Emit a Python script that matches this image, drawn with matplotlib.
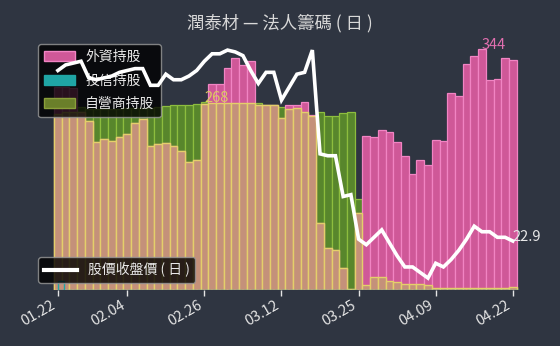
import numpy as np
import matplotlib
matplotlib.use('Agg')
import matplotlib.pyplot as plt
from matplotlib.patches import Patch
from matplotlib.lines import Line2D

plt.rcParams['font.family'] = ['Noto Sans CJK TC', 'DejaVu Sans']

title = '潤泰材 — 法人籌碼 ( 日 )'
series_names = ['外資持股', '投信持股', '自營商持股']
price_name = '股價收盤價 ( 日 )'

tick_labels = ['01.22', '02.04', '02.26', '03.12', '03.25', '04.09', '04.22']
tick_idx = [0, 9, 19, 29, 39, 49, 59]

foreign = [290, 290, 288, 255, 242, 212, 216, 213, 219, 223, 239, 244,
           206, 209, 210, 206, 198, 182, 186, 266, 294, 294, 318, 332,
           322, 327, 265, 265, 265, 245, 265, 265, 268, 250, 95, 60,
           57, 31, 1, 110, 220, 218, 229, 225, 212, 191, 166, 186,
           178, 214, 213, 282, 277, 323, 334, 344, 300, 302, 332, 329]
trust = [12, 0, 0, 0, 0, 0, 0, 0, 0, 0, 0, 0,
         0, 0, 0, 0, 0, 0, 0, 0, 0, 0, 0, 0,
         0, 0, 0, 0, 0, 0, 0, 0, 0, 0, 0, 0,
         0, 0, 0, 0, 0, 0, 0, 0, 0, 0, 0, 0,
         0, 0, 0, 0, 0, 0, 0, 0, 0, 0, 0, 0]
dealer = [252, 254, 255, 262, 258, 258, 258, 259, 259, 260, 260, 260,
          260, 262, 263, 264, 264, 265, 266, 268, 267, 267, 267, 267,
          267, 267, 267, 265, 265, 262, 258, 260, 255, 249, 255, 249,
          249, 253, 255, 129, 6, 18, 18, 12, 11, 8, 8, 8,
          7, 2, 2, 2, 2, 2, 2, 2, 2, 2, 2, 4]
price = [27.5, 27.65, 27.7, 27.75, 27.3, 27.25, 27.3, 27.35, 27.45, 27.5, 27.55, 27.55,
         27.1, 27.1, 27.4, 27.25, 27.25, 27.35, 27.5, 27.75, 27.95, 27.95, 28.05, 28.0,
         27.9, 27.5, 27.15, 27.45, 27.45, 26.7, 27.05, 27.4, 27.45, 28.05, 25.25, 25.2,
         25.2, 24.1, 24.15, 22.95, 22.8, 23.0, 23.2, 22.85, 22.5, 22.2, 22.2, 22.05,
         21.9, 22.3, 22.2, 22.4, 22.65, 22.95, 23.3, 23.15, 23.15, 23.0, 23.0, 22.9]

BG = '#2f3541'
PINK, PINK_E = '#cf5898', '#f184c3'
GREEN, GREEN_E = '#58862c', '#8dbd3e'
TAN, TAN_E = '#c4917a', '#e4cf6a'
TEAL = '#1fa5a5'

W, H = 560, 346
fig = plt.figure(figsize=(W / 100, H / 100), dpi=100, facecolor=BG)
ax = fig.add_axes([40 / W, (H - 289.5) / H, 490 / W, 249.5 / H])
ax.set_facecolor(BG)

n = len(foreign)
x = np.arange(n)
f = np.array(foreign, float)
d = np.array(dealer, float)
t = np.array(trust, float)
overlap = np.minimum(f, d)

ax.bar(x, d, width=1.0, color=GREEN, edgecolor=GREEN_E, linewidth=0.9, zorder=2)
ax.bar(x, f, width=1.0, color=PINK, edgecolor=PINK_E, linewidth=0.9, zorder=2)
ax.bar(x, overlap, width=1.0, color=TAN, edgecolor=TAN_E, linewidth=1.0, zorder=3)
ax.bar(x, t, width=0.85, align='edge', color=TAN, edgecolor=TEAL, linewidth=1.0, zorder=4)

ax.set_xlim((40 - 57.9) / 7.71, (530 - 57.9) / 7.71)
ax.set_ylim(0, 249.5 / 0.698)
for s in ax.spines.values():
    s.set_visible(False)
ax.set_yticks([])
ax.set_xticks(tick_idx)
ax.set_xticklabels(tick_labels, rotation=30, ha='right', color='#e4e4e4', fontsize=10.5)
ax.tick_params(axis='x', colors='#e4e4e4', length=4, width=1, pad=2)
ax.tick_params(axis='x', labelcolor='#e4e4e4')

fi = int(np.argmax(f))
ax.text(fi, f[fi], f'{int(f[fi])}', ha='left', va='baseline', color='#e26fb0', fontsize=10.5, zorder=6)
di = int(np.argmax(d))
ax.text(di, d[di], f'{int(d[di])}', ha='left', va='baseline', color='#dccb62', fontsize=10.5, zorder=6)

handles = [Patch(facecolor=PINK, edgecolor=PINK_E), Patch(facecolor=TEAL, edgecolor=TEAL),
           Patch(facecolor='#6a7f2a', edgecolor='#8a9f3a')]
leg = ax.legend(handles, series_names, loc='upper left',
                bbox_to_anchor=(38 / W, 1 - 44 / H), bbox_transform=fig.transFigure,
                borderaxespad=0, facecolor='black', framealpha=0.8, edgecolor='#9a9a9a',
                labelcolor='#e8e8e8', fontsize=10, handlelength=2.2, handleheight=0.75,
                handletextpad=0.75, labelspacing=0.68, borderpad=0.45, fancybox=True)
leg.set_zorder(10)

ax2 = ax.twinx()
ax2.plot(x, price, color='white', linewidth=2.6, solid_joinstyle='miter', zorder=5)
ax2.set_ylim(21.592, 28.322)
ax2.set_yticks([])
for s in ax2.spines.values():
    s.set_visible(False)
ax2.text(x[-1], price[-1], f'{price[-1]:g}', ha='left', va='baseline', color='#e8e8e8', fontsize=10.5)
leg2 = ax2.legend([Line2D([0], [0], color='white', lw=3)], [price_name], loc='lower left',
                  bbox_to_anchor=(38 / W, 1 - 283 / H), bbox_transform=fig.transFigure,
                  borderaxespad=0, facecolor='black', framealpha=0.8, edgecolor='#9a9a9a',
                  labelcolor='#e8e8e8', fontsize=10, handlelength=2.4,
                  handletextpad=0.8, borderpad=0.4, fancybox=True)

fig.text(0.5, 1 - 23 / H, title, ha='center', va='center', color='#d8d8d8', fontsize=12.5)

fig.savefig('out.png', dpi=100, facecolor=BG)
